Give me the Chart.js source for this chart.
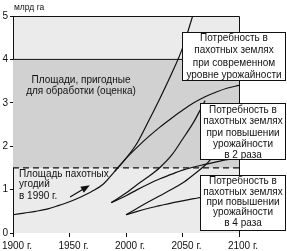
<!DOCTYPE html>
<html>
<head>
<meta charset="utf-8">
<script src="https://cdn.jsdelivr.net/npm/chart.js@4/dist/chart.umd.min.js"></script>
<style>
  html, body { margin: 0; padding: 0; background: #fff; }
  canvas { display: block; }
</style>
</head>
<body>
<canvas id="chart" width="287" height="251"></canvas>
<script>
// Tick labels
const xTicks = [1900, 1950, 2000, 2050, 2100];

// Horizontal reference levels, млрд га
const arable1990 = 1.5;
const suitableLand = 4;

// Need at current yield: shared history, then two projections
const currentHighYears = [1900, 1910, 1920, 1930, 1940, 1950, 1960, 1970, 1980, 1990, 2000, 2010, 2020, 2030, 2040, 2050, 2059];
const currentHigh = [0.42, 0.46, 0.5, 0.55, 0.63, 0.72, 0.83, 0.96, 1.13, 1.42, 1.72, 2.08, 2.58, 3.1, 3.65, 4.26, 5.0];
const currentLowYears = [1990, 2000, 2010, 2020, 2030, 2040, 2050, 2060, 2070, 2080, 2090, 2100];
const currentLow = [1.42, 1.72, 1.98, 2.22, 2.44, 2.64, 2.83, 3.0, 3.14, 3.25, 3.34, 3.4];

// Need with yield doubled
const doubleHighYears = [1987, 2000, 2010, 2020, 2030, 2040, 2050, 2060, 2070];
const doubleHigh = [0.7, 0.92, 1.12, 1.3, 1.51, 1.78, 2.16, 2.56, 3.05];
const doubleLowYears = [1987, 2000, 2010, 2020, 2030, 2040, 2050, 2060, 2070, 2080, 2090, 2100];
const doubleLow = [0.7, 0.86, 1.0, 1.13, 1.25, 1.35, 1.45, 1.52, 1.58, 1.64, 1.69, 1.72];

// Need with yield x4
const quadYears = [2000, 2010, 2020, 2030, 2040, 2050, 2060, 2070, 2080];
const quadHigh = [0.42, 0.57, 0.72, 0.86, 1.0, 1.15, 1.35, 1.56, 1.85];
const quadLow = [0.42, 0.5, 0.57, 0.63, 0.69, 0.74, 0.79, 0.84, 0.88];

// Arrow to the 1990 curve: [year, value] start and end
const arrowFrom = [1950.5, 0.83];
const arrowTo = [1968, 1.1];

const INK = '#111';
const LIGHT = '#ebebeb';
const MID = '#d1d1d1';
const FONT = '"Liberation Sans", Arial, sans-serif';

Chart.defaults.font.family = FONT;
Chart.defaults.font.size = 10;
Chart.defaults.color = INK;

const pts = (xs, ys) => xs.map((x, i) => ({ x: x, y: ys[i] }));
const level = (v) => [{ x: 1900, y: v }, { x: 2100, y: v }];

const curve = (xs, ys) => ({
  data: pts(xs, ys),
  borderColor: INK,
  borderWidth: 1.2,
  pointRadius: 0,
  fill: false,
  cubicInterpolationMode: 'monotone'
});

const boxes = [
  { x: 182, y: 32, w: 103, h: 48, lines: ['Потребность в', 'пахотных землях', 'при современном', 'уровне урожайности'], ys: [38.5, 50.7, 62.9, 75.1] },
  { x: 200, y: 103, w: 85, h: 56, lines: ['Потребность в', 'пахотных землях', 'при повышении', 'урожайности', 'в 2 раза'], ys: [110, 121.5, 132.8, 144, 155] },
  { x: 200, y: 175, w: 85, h: 55, lines: ['Потребность в', 'пахотных землях', 'при повышении', 'урожайности', 'в 4 раза'], ys: [181.7, 191.9, 202.2, 212.6, 223] }
];

const decor = {
  id: 'decor',
  beforeDraw(chart) {
    const { ctx, chartArea: a } = chart;
    ctx.save();
    ctx.fillStyle = '#fff';
    ctx.fillRect(0, 0, chart.width, chart.height);
    ctx.fillStyle = LIGHT;
    ctx.fillRect(a.left, a.top, a.right - a.left, a.bottom - a.top);
    ctx.restore();
  },
  afterDatasetsDraw(chart) {
    const { ctx, chartArea: a, scales } = chart;
    const sx = scales.x, sy = scales.y;
    ctx.save();
    // top and right frame
    ctx.strokeStyle = INK;
    ctx.lineWidth = 1;
    ctx.beginPath();
    ctx.moveTo(a.left, a.top + 0.5);
    ctx.lineTo(Math.round(a.right) + 0.5, a.top + 0.5);
    ctx.lineTo(Math.round(a.right) + 0.5, a.bottom);
    ctx.stroke();

    ctx.fillStyle = INK;
    ctx.font = '8.5px ' + FONT;
    ctx.textBaseline = 'middle';
    ctx.textAlign = 'left';
    ctx.fillText('млрд га', 14, 7.5);

    ctx.font = '10px ' + FONT;
    ctx.textAlign = 'center';
    ctx.fillText('Площади, пригодные', 81, 80);
    ctx.fillText('для обработки (оценка)', 81, 91);

    ctx.textAlign = 'left';
    ctx.fillText('Площадь пахотных', 19, 174);
    ctx.fillText('угодий', 19, 184.5);
    ctx.fillText('в 1990 г.', 19, 196);

    // arrow
    const x0 = sx.getPixelForValue(arrowFrom[0]), y0 = sy.getPixelForValue(arrowFrom[1]);
    const x1 = sx.getPixelForValue(arrowTo[0]), y1 = sy.getPixelForValue(arrowTo[1]);
    const ang = Math.atan2(y1 - y0, x1 - x0);
    ctx.lineWidth = 1.3;
    ctx.beginPath();
    ctx.moveTo(x0, y0);
    ctx.lineTo(x1 - 5 * Math.cos(ang), y1 - 5 * Math.sin(ang));
    ctx.stroke();
    ctx.beginPath();
    ctx.moveTo(x1, y1);
    ctx.lineTo(x1 - 9 * Math.cos(ang) + 3.5 * Math.sin(ang), y1 - 9 * Math.sin(ang) - 3.5 * Math.cos(ang));
    ctx.lineTo(x1 - 9 * Math.cos(ang) - 3.5 * Math.sin(ang), y1 - 9 * Math.sin(ang) + 3.5 * Math.cos(ang));
    ctx.closePath();
    ctx.fill();

    // callout boxes
    ctx.lineWidth = 1;
    boxes.forEach(b => {
      ctx.fillStyle = '#fff';
      ctx.fillRect(b.x, b.y, b.w, b.h);
      ctx.strokeStyle = INK;
      ctx.strokeRect(b.x + 0.5, b.y + 0.5, b.w, b.h);
      ctx.fillStyle = INK;
      ctx.textAlign = 'center';
      b.lines.forEach((t, i) => ctx.fillText(t, b.x + b.w / 2 + 0.5, b.ys[i]));
    });
    ctx.restore();
  }
};

new Chart(document.getElementById('chart'), {
  type: 'line',
  data: {
    datasets: [
      { data: level(arable1990), borderColor: INK, borderWidth: 1.3, borderDash: [6, 4], pointRadius: 0, fill: false },
      { data: level(suitableLand), borderColor: INK, borderWidth: 1, pointRadius: 0, fill: '-1', backgroundColor: MID },
      curve(currentHighYears, currentHigh),
      curve(currentLowYears, currentLow),
      curve(doubleHighYears, doubleHigh),
      curve(doubleLowYears, doubleLow),
      curve(quadYears, quadHigh),
      curve(quadYears, quadLow)
    ]
  },
  options: {
    responsive: false,
    animation: false,
    devicePixelRatio: 1,
    layout: { padding: { top: 16, right: 48, left: 0, bottom: 0 } },
    plugins: {
      legend: { display: false },
      tooltip: { enabled: false },
      filler: { drawTime: 'beforeDatasetsDraw' }
    },
    scales: {
      x: {
        type: 'linear',
        min: 1900,
        max: 2100,
        afterBuildTicks: (s) => { s.ticks = xTicks.map(v => ({ value: v })); },
        afterFit: (s) => { s.height = 18; s.paddingLeft = 0; s.paddingRight = 0; },
        border: { display: false },
        grid: { drawOnChartArea: false, tickLength: 4, color: INK },
        ticks: {
          padding: 3,
          labelOffset: 4,
          maxRotation: 0,
          autoSkip: false,
          callback: (v) => v + ' г.'
        }
      },
      y: {
        min: 0,
        max: 5,
        afterFit: (s) => { s.width = 13; },
        border: { display: true, color: INK, width: 1 },
        grid: { drawOnChartArea: false, tickLength: 3, color: INK },
        ticks: { stepSize: 1, padding: 2 }
      }
    }
  },
  plugins: [decor]
});
</script>
</body>
</html>
